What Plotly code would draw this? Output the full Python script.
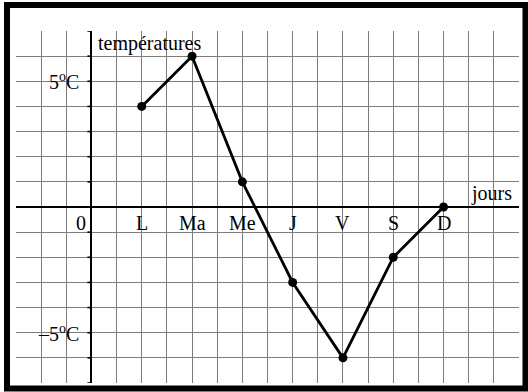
import plotly.graph_objects as go

# temperatures relevees chaque jour de la semaine
days = ["L", "Ma", "Me", "J", "V", "S", "D"]
temperatures = [4, 6, 1, -3, -6, -2, 0]
y_labels = {5: "5<sup>o</sup>C", -5: "\u20135<sup>o</sup>C"}

# one day every two squares on the grid
day_x = [2 * (i + 1) for i in range(len(days))]

W, H = 528, 392
# plot area in pixels (grid edges)
left, right, top, bottom = 16, 519, 31, 383

FONT = dict(family="Liberation Serif, Times New Roman, serif", size=20, color="black")


def px_to_paper(px, py):
    return (px - left) / (right - left), (bottom - py) / (bottom - top)


fig = go.Figure()

fig.add_trace(
    go.Scatter(
        x=day_x,
        y=temperatures,
        mode="lines+markers",
        line=dict(color="black", width=2.8),
        marker=dict(color="black", size=9),
        showlegend=False,
        hoverinfo="skip",
    )
)

annotations = []
for d, x in zip(days, day_x):
    annotations.append(dict(x=x, y=-0.64, text=d, showarrow=False, font=FONT, xanchor="center", yanchor="middle"))
annotations.append(dict(x=-0.41, y=-0.64, text="0", showarrow=False, font=FONT, xanchor="center", yanchor="middle"))
for val, txt in y_labels.items():
    annotations.append(dict(x=-0.43, y=val, text=txt, showarrow=False, font=FONT, xanchor="right", yanchor="middle"))
annotations.append(dict(x=0.2, y=6.5, text="températures", showarrow=False, font=FONT, xanchor="left", yanchor="middle"))
annotations.append(dict(x=15.9, y=0.55, text="jours", showarrow=False, font=FONT, xanchor="center", yanchor="middle"))

# black frame around the whole figure
x0, y0 = px_to_paper(7, 388.5)
x1, y1 = px_to_paper(525.5, 5)
shapes = [
    dict(type="rect", xref="paper", yref="paper", x0=x0, y0=y0, x1=x1, y1=y1,
         line=dict(color="black", width=6), layer="above"),
]
# small ticks on the left of the vertical axis
for k in range(-7, 8):
    shapes.append(dict(type="line", xref="x", yref="y", x0=-0.16, x1=0, y0=k, y1=k,
                       line=dict(color="black", width=1.6)))

grid = dict(
    showgrid=True,
    gridcolor="#7c7c7c",
    gridwidth=1,
    dtick=1,
    tick0=0,
    showticklabels=False,
    ticks="",
    zeroline=True,
    zerolinecolor="black",
    zerolinewidth=2,
    showline=False,
    fixedrange=True,
)

fig.update_layout(
    width=W,
    height=H,
    margin=dict(l=left, r=W - right, t=top, b=H - bottom),
    paper_bgcolor="white",
    plot_bgcolor="white",
    xaxis=dict(range=[-3, 17], **grid),
    yaxis=dict(range=[-7, 7], **grid),
    annotations=annotations,
    shapes=shapes,
)

fig.write_html(
    "out.html",
    config={"displayModeBar": False},
    post_script="document.body.style.margin='0';document.body.style.overflow='hidden';",
)
